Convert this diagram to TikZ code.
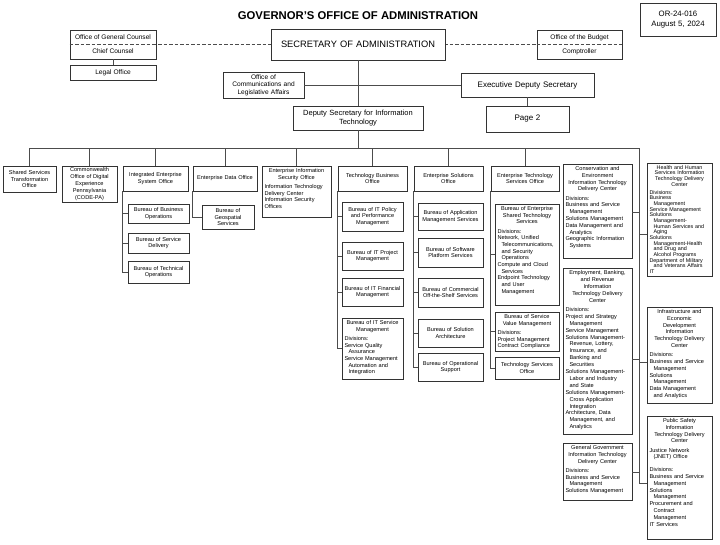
\documentclass[tikz,border=0pt]{standalone}
\usepackage{fontspec}
\setmainfont{Liberation Sans}
\newcommand{\IndA}{\hspace*{4pt}}
\tikzset{
  ob/.style={draw=black!80, line width=0.6pt, fill=white, inner sep=0pt, font=\fontsize{5.6}{6.7}\selectfont},
  tx/.style={inner sep=0pt, font=\fontsize{5.6}{6.7}\selectfont},
  cn/.style={draw=black!70, line width=0.8pt},
  dl/.style={draw=black!70, line width=0.7pt, dash pattern=on 3.5pt off 2pt},
}
\newcommand{\BX}[7][]{%
  \pgfmathsetmacro{\BXw}{#5-#3}\pgfmathsetmacro{\BXh}{#6-#4}%
  \pgfmathsetmacro{\BXx}{(#3+#5)/2}\pgfmathsetmacro{\BXy}{(#4+#6)/2}%
  \pgfmathsetmacro{\BXt}{#5-#3-3}%
  \node[ob,minimum width=\BXw pt,minimum height=\BXh pt,text width=\BXt pt,#1] (#2) at (\BXx,\BXy) {\centering #7\par};}
\newcommand{\TB}[7][]{%
  \pgfmathsetmacro{\BXw}{#5-#3}\pgfmathsetmacro{\BXh}{#6-#4}%
  \pgfmathsetmacro{\BXx}{(#3+#5)/2}\pgfmathsetmacro{\BXy}{(#4+#6)/2}%
  \pgfmathsetmacro{\BXt}{#5-#3-5}%
  \node[ob,minimum width=\BXw pt,minimum height=\BXh pt] (#2) at (\BXx,\BXy) {};
  \node[tx,text width=\BXt pt,anchor=north,#1] (#2-t) at ([yshift=-2.5pt]#2.north) {#7};}
\begin{document}
\begin{tikzpicture}[x=1pt,y=-1pt]
\useasboundingbox (0,0) rectangle (720,544);
\fill[white] (0,0) rectangle (720,544);

% header
\node[inner sep=0pt,font=\bfseries\fontsize{11.3}{13}\selectfont] (title) at (358,16) {GOVERNOR’S OFFICE OF ADMINISTRATION};
\BX[font=\fontsize{7.8}{9.5}\selectfont]{or}{640}{3}{716}{36}{OR-24-016\\August 5, 2024}

% dashed staff line
\draw[dl] (70,44.5) -- (622,44.5);

\BX{gc}{70}{30}{156}{59}{}
\draw[dl] (gc.west) -- (gc.east);
\node[tx,font=\fontsize{6.6}{8}\selectfont] (gct) at (113,37.5) {Office of General Counsel};
\node[tx,font=\fontsize{6.6}{8}\selectfont] (gcb) at (113,51.5) {Chief Counsel};
\BX[font=\fontsize{6.6}{8}\selectfont]{legal}{70}{65}{156}{80}{Legal Office}
\BX[font=\fontsize{9.3}{11}\selectfont]{sec}{271}{29}{445}{60}{SECRETARY OF ADMINISTRATION}
\BX{bud}{537}{30}{622}{59}{}
\draw[dl] (bud.west) -- (bud.east);
\node[tx,font=\fontsize{6.6}{8}\selectfont] (budt) at (579.5,37.5) {Office of the Budget};
\node[tx,font=\fontsize{6.6}{8}\selectfont] (budb) at (579.5,51.5) {Comptroller};

\BX[font=\fontsize{6.6}{7.6}\selectfont]{comm}{223}{72}{304}{98}{Office of\\Communications and\\Legislative Affairs}
\BX[font=\fontsize{8}{9.5}\selectfont]{eds}{461}{73}{594}{97}{Executive Deputy Secretary}
\BX[font=\fontsize{8}{9.5}\selectfont]{pg}{486}{106}{569}{132}{Page 2}
\BX[font=\fontsize{7.5}{9}\selectfont]{dep}{293}{106}{423}{130}{Deputy Secretary for Information\\Technology}

\draw[cn] (legal.north) -- (gc.south);
\draw[cn] (sec.south) -- (dep.north);
\draw[cn] (comm.east) -- (comm.east -| sec.south);
\draw[cn] (eds.west) -- (eds.west -| sec.south);
\draw[cn] (eds.south) -- (pg.north);

% top row
\BX[font=\fontsize{5.6}{6.9}\selectfont]{shared}{3}{166}{56}{192}{Shared Services\\Transformation\\Office}
\BX[font=\fontsize{5.6}{7.2}\selectfont]{code}{62}{166}{117}{202}{Commonwealth\\Office of Digital\\Experience\\Pennsylvania\\(CODE-PA)}
\BX{ies}{123}{166}{188}{191}{Integrated Enterprise\\System Office}
\BX{iesa}{128}{204}{189}{223}{Bureau of Business\\Operations}
\BX{iesb}{128}{233}{189}{253}{Bureau of Service\\Delivery}
\BX{iesc}{128}{261}{189}{283}{Bureau of Technical\\Operations}
\BX{edo}{193}{166}{257}{191}{Enterprise Data Office}
\BX[font=\fontsize{5.6}{6.8}\selectfont]{geo}{202}{205}{254}{229}{Bureau of\\Geospatial\\Services}
\TB{eiso}{262}{166}{331}{217}{\centering Enterprise Information\\Security Office\par\vspace{2.5pt}\raggedright Information Technology\\Delivery Center\\Information Security\\Offices}
\BX{tbo}{338}{166}{407}{191}{Technology Business\\Office}
\BX{tboa}{342}{202}{403}{231}{Bureau of IT Policy\\and Performance\\Management}
\BX{tbob}{342}{242}{403}{270}{Bureau of IT Project\\Management}
\BX{tboc}{342}{278}{403}{306}{Bureau of IT Financial\\Management}
\TB{tbod}{342}{318}{403}{379}{\centering Bureau of IT Service\\Management\par\vspace{2.5pt}\raggedright Divisions:\\Service Quality\\\IndA Assurance\\Service Management\\\IndA Automation and\\\IndA Integration}
\BX{eso}{414}{166}{483}{191}{Enterprise Solutions\\Office}
\BX{esoa}{418}{203}{483}{230}{Bureau of Application\\Management Services}
\BX{esob}{418}{238}{483}{267}{Bureau of Software\\Platform Services}
\BX{esoc}{418}{278}{483}{307}{Bureau of Commercial\\Off-the-Shelf Services}
\BX{esod}{418}{319}{483}{347}{Bureau of Solution\\Architecture}
\BX{esoe}{418}{353}{483}{381}{Bureau of Operational\\Support}
\BX{etso}{491}{166}{559}{191}{Enterprise Technology\\Services Office}
\TB{etsoa}{495}{204}{559}{305}{\centering Bureau of Enterprise\\Shared Technology\\Services\par\vspace{2.5pt}\raggedright Divisions:\\Network, Unified\\\IndA Telecommunications,\\\IndA and Security\\\IndA Operations\\Compute and Cloud\\\IndA Services\\Endpoint Technology\\\IndA and User\\\IndA Management}
\TB{etsob}{495}{312}{559}{351}{\centering Bureau of Service\\Value Management\par\vspace{2.5pt}\raggedright Divisions:\\Project Management\\Contract Compliance}
\BX{etsoc}{495}{357}{559}{379}{Technology Services\\Office}

% right columns
\TB[font=\fontsize{5.6}{6.8}\selectfont]{cons}{563}{164}{632}{258}{\centering Conservation and\\Environment\\Information Technology\\Delivery Center\par\vspace{2.5pt}\raggedright Divisions:\\Business and Service\\\IndA Management\\Solutions Management\\Data Management and\\\IndA Analytics\\Geographic Information\\\IndA Systems}
\TB[font=\fontsize{5.6}{6.9}\selectfont]{emp}{563}{268}{632}{434}{\centering Employment, Banking,\\and Revenue\\Information\\Technology Delivery\\Center\par\vspace{2.5pt}\raggedright Divisions:\\Project and Strategy\\\IndA Management\\Service Management\\Solutions Management-\\\IndA Revenue, Lottery,\\\IndA Insurance, and\\\IndA Banking and\\\IndA Securities\\Solutions Management-\\\IndA Labor and Industry\\\IndA and State\\Solutions Management-\\\IndA Cross Application\\\IndA Integration\\Architecture, Data\\\IndA Management, and\\\IndA Analytics}
\TB[font=\fontsize{5.6}{6.8}\selectfont]{gg}{563}{443}{632}{500}{\centering General Government\\Information Technology\\Delivery Center\par\vspace{2.5pt}\raggedright Divisions:\\Business and Service\\\IndA Management\\Solutions Management}
\TB[font=\fontsize{5.4}{5.68}\selectfont]{hhs}{647}{163}{712}{276}{\centering Health and Human\\Services Information\\Technology Delivery\\Center\par\vspace{2pt}\raggedright Divisions:\\Business\\\IndA Management\\Service Management\\Solutions\\\IndA Management-\\\IndA Human Services and\\\IndA Aging\\Solutions\\\IndA Management-Health\\\IndA and Drug and\\\IndA Alcohol Programs\\Department of Military\\\IndA and Veterans Affairs\\IT}
\TB[font=\fontsize{5.6}{6.8}\selectfont]{infra}{647}{307}{712}{403}{\centering Infrastructure and\\Economic\\Development\\Information\\Technology Delivery\\Center\par\vspace{2.5pt}\raggedright Divisions:\\Business and Service\\\IndA Management\\Solutions\\\IndA Management\\Data Management\\\IndA and Analytics}
\TB[font=\fontsize{5.6}{6.8}\selectfont]{ps}{647}{416}{712}{539}{\centering Public Safety\\Information\\Technology Delivery\\Center\par\vspace{2.5pt}\raggedright Justice Network\\\IndA (JNET) Office\\[6pt]Divisions:\\Business and Service\\\IndA Management\\Solutions\\\IndA Management\\Procurement and\\\IndA Contract\\\IndA Management\\IT Services}

% bus and connectors
\coordinate (busL) at (30,148);
\coordinate (busR) at (639,148);
\coordinate (rEnd) at (639,483);
\draw[cn] (dep.south) -- (dep.south |- busL);
\draw[cn] (busL) -- (busR) -- (rEnd);
\foreach \n in {shared,code,ies,edo,eiso,tbo,eso,etso}
  \draw[cn] (\n.north) -- (\n.north |- busL);

\draw[cn] (ies.south west) |- (iesc.west);
\draw[cn] (iesa.west) -- (iesa.west -| ies.west);
\draw[cn] (iesb.west) -- (iesb.west -| ies.west);
\draw[cn] (edo.south west) |- (geo.west);
\draw[cn] (tbo.south west) |- (tbod.west);
\foreach \n in {tboa,tbob,tboc} \draw[cn] (\n.west) -- (\n.west -| tbo.west);
\draw[cn] (eso.south west) |- (esoe.west);
\foreach \n in {esoa,esob,esoc,esod} \draw[cn] (\n.west) -- (\n.west -| eso.west);
\draw[cn] (etso.south west) |- (etsoc.west);
\foreach \n in {etsoa,etsob} \draw[cn] (\n.west) -- (\n.west -| etso.west);

\draw[cn] (cons.east |- 0,212) -- (busR |- 0,212);
\draw[cn] (hhs.west |- 0,234) -- (busR |- 0,234);
\draw[cn] (emp.east |- 0,359) -- (busR |- 0,359);
\draw[cn] (infra.west |- 0,362) -- (busR |- 0,362);
\draw[cn] (gg.east |- 0,472) -- (busR |- 0,472);
\draw[cn] (ps.west |- 0,483) -- (rEnd);
\end{tikzpicture}
\end{document}
